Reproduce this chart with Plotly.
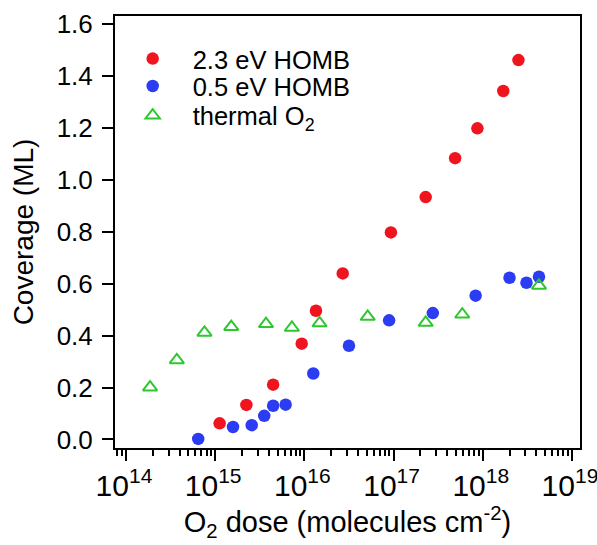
import plotly.graph_objects as go

# Data (x = O2 dose, molecules cm^-2; y = coverage, ML)
red_logx = [15.05, 15.35, 15.65, 15.97, 16.13, 16.43, 16.97, 17.36, 17.69, 17.94, 18.23, 18.40]
red_y = [0.062, 0.133, 0.211, 0.369, 0.496, 0.640, 0.798, 0.934, 1.084, 1.199, 1.343, 1.462]

blue_logx = [14.81, 15.20, 15.41, 15.55, 15.65, 15.79, 16.10, 16.50, 16.95, 17.44, 17.92, 18.30, 18.49, 18.63]
blue_y = [0.002, 0.048, 0.055, 0.091, 0.130, 0.134, 0.254, 0.361, 0.459, 0.487, 0.554, 0.623, 0.604, 0.627]

green_logx = [14.27, 14.57, 14.88, 15.18, 15.57, 15.86, 16.17, 16.71, 17.36, 17.77, 18.63]
green_y = [0.201, 0.306, 0.412, 0.434, 0.445, 0.431, 0.448, 0.473, 0.450, 0.482, 0.593]

red_x = [10 ** v for v in red_logx]
blue_x = [10 ** v for v in blue_logx]
green_x = [10 ** v for v in green_logx]

series_names = ["2.3 eV HOMB", "0.5 eV HOMB", "thermal O<sub>2</sub>"]
y_ticks = [0, 0.2, 0.4, 0.6, 0.8, 1.0, 1.2, 1.4, 1.6]

FONT = "Liberation Sans, Arial, sans-serif"

fig = go.Figure()
fig.add_trace(go.Scatter(x=red_x, y=red_y, mode="markers", name=series_names[0],
                         legend="legend",
                         marker=dict(symbol="circle", size=12.5, color="#f0141e")))
fig.add_trace(go.Scatter(x=blue_x, y=blue_y, mode="markers", name=series_names[1],
                         legend="legend2",
                         marker=dict(symbol="circle", size=12.5, color="#2b3cf2")))
fig.add_trace(go.Scatter(x=green_x, y=green_y, mode="markers", name=series_names[2],
                         legend="legend3",
                         marker=dict(symbol="triangle-up-open", size=12.5, color="#2ec82e",
                                     line=dict(width=2, color="#2ec82e"))))

leg_common = dict(xanchor="left", yanchor="middle", bgcolor="rgba(0,0,0,0)",
                  font=dict(size=25.5), itemwidth=70, borderwidth=0)

fig.update_layout(
    width=597, height=545,
    margin=dict(l=115, r=17, t=16, b=97, autoexpand=False),
    paper_bgcolor="white", plot_bgcolor="white",
    font=dict(family=FONT, color="black", size=26),
    showlegend=True,
    legend=dict(x=-0.005, y=0.9005, **leg_common),
    legend2=dict(x=-0.005, y=0.837, **leg_common),
    legend3=dict(x=-0.005, y=0.769, **leg_common),
    xaxis=dict(type="log", range=[13.877, 19.09], dtick=1, exponentformat="power",
               automargin=False, ticklabeloverflow="allow", ticklabelshift=-2,
               showgrid=False, zeroline=False, showline=True, linecolor="black",
               linewidth=2, mirror=True, ticks="outside", ticklen=11, tickwidth=2,
               tickcolor="black", tickfont=dict(size=24),
               minor=dict(ticks="outside", ticklen=6, tickwidth=1.5, tickcolor="black",
                          dtick="D1", showgrid=False),
               title=dict(text="O<sub>2</sub> dose (molecules cm<sup>-2</sup>)",
                          font=dict(size=29), standoff=6)),
    yaxis=dict(range=[-0.033, 1.632], tickvals=y_ticks, tickformat=".1f",
               automargin=False,
               showgrid=False, zeroline=False, showline=True, linecolor="black",
               linewidth=2, mirror=True, ticks="outside", ticklen=11, tickwidth=2,
               tickcolor="black", tickfont=dict(size=26), ticklabelstandoff=4,
               title=dict(text="Coverage (ML)", font=dict(size=28), standoff=15)),
)

fig.write_html(
    "out.html",
    config={"displayModeBar": False},
    post_script="document.body.style.margin='0';document.body.style.overflow='hidden';",
)
